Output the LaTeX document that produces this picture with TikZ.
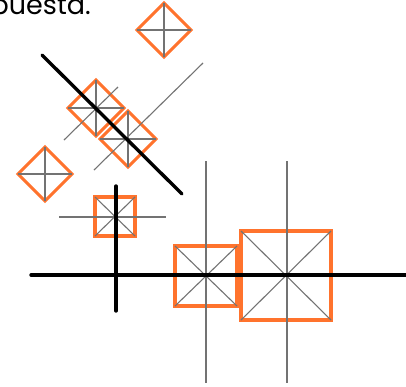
\documentclass[tikz,border=0pt]{standalone}
\usepackage{fontspec}
\setmainfont{Poppins}
\begin{document}
\begin{tikzpicture}[x=1pt,y=-1pt,
  thin gray/.style={draw=black!55,line width=1.1pt},
  orange box/.style={draw={rgb,255:red,255;green,115;blue,45},line width=3.1pt,line join=miter},
  thick black/.style={draw=black,line width=3.4pt,line cap=round}]
\useasboundingbox (0,0) rectangle (406,386);
\clip (0,0) rectangle (406,386);
\fill[white] (0,0) rectangle (406,386);
\node[anchor=base east,inner sep=0pt,font=\fontsize{27}{30}\selectfont] (txt) at (91,14) {puesta.};
% diamonds
\foreach \cx/\cy/\r in {164/30/27,96/108/28,128/139/28,45/174/27}{
  \draw[orange box] (\cx,\cy-\r) -- (\cx+\r,\cy) -- (\cx,\cy+\r) -- (\cx-\r,\cy) -- cycle;
  \draw[thin gray] (\cx-\r,\cy) -- (\cx+\r,\cy) (\cx,\cy-\r) -- (\cx,\cy+\r);
}
% squares
\draw[orange box] (95,197) rectangle (135,236);
\draw[thin gray] (95,197) -- (135,236) (135,197) -- (95,236);
\draw[orange box] (175,246) rectangle (237,306);
\draw[thin gray] (175,246) -- (237,306) (237,246) -- (175,306);
\draw[orange box] (241,231) rectangle (331,320);
\draw[thin gray] (241,231) -- (331,320) (331,231) -- (241,320);
% long thin lines
\draw[thin gray] (64,140) -- (118,87);
\draw[thin gray] (94,170) -- (203,63);
\draw[thin gray] (59,217) -- (166,217);
\draw[thin gray] (206,161) -- (206,383);
\draw[thin gray] (287,161) -- (287,383);
% thick lines
\draw[thick black] (42,55) -- (182,194);
\draw[thick black] (116,186) -- (116,311);
\draw[thick black] (31,275) -- (410,275);
\end{tikzpicture}
\end{document}
